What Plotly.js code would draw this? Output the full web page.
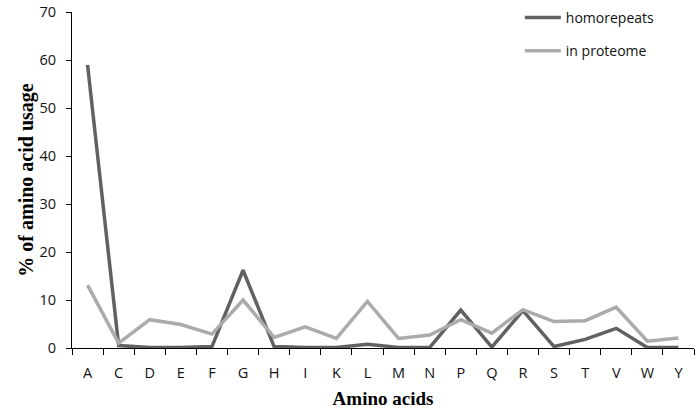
<!DOCTYPE html>
<html>
<head>
<meta charset="utf-8">
<script src="https://cdn.plot.ly/plotly-3.0.1.min.js"></script>
<style>html,body{margin:0;padding:0;background:#fff}#chart{width:696px;height:412px}</style>
</head>
<body>
<div id="chart"></div>
<script>
const aminoAcids = ["A","C","D","E","F","G","H","I","K","L","M","N","P","Q","R","S","T","V","W","Y"];
const homorepeats = [59.0,0.5,0.1,0.1,0.3,16.2,0.3,0.1,0.1,0.8,0.1,0.1,7.9,0.2,7.8,0.3,1.8,4.1,0.1,0.1];
const inProteome = [13.1,1.0,5.9,4.9,2.9,10.0,2.2,4.4,2.0,9.7,2.0,2.7,5.9,3.1,8.0,5.5,5.7,8.5,1.4,2.1];
const yTicks = [0,10,20,30,40,50,60,70];

const traces = [
  {x: aminoAcids, y: homorepeats, type: "scatter", mode: "lines", name: "homorepeats",
   legendgroup: "a", line: {color: "#616161", width: 3.5}},
  {x: aminoAcids, y: inProteome, type: "scatter", mode: "lines", name: "in proteome",
   legendgroup: "b", line: {color: "#ababab", width: 3.5}}
];

const tf = {family: "Open Sans, Liberation Sans, sans-serif", size: 14.5, color: "#111"};

const layout = {
  width: 696, height: 412,
  margin: {l: 72, r: 2, t: 7, b: 64},
  paper_bgcolor: "#fff", plot_bgcolor: "#fff",
  showlegend: true,
  legend: {x: 0.72, y: 1.03, xanchor: "left", yanchor: "top", bgcolor: "rgba(0,0,0,0)",
           font: {family: "Open Sans, Liberation Sans, sans-serif", size: 14, color: "#111"},
           tracegroupgap: 12, itemwidth: 36},
  xaxis: {type: "category", categoryarray: aminoAcids, showline: true, linecolor: "#000", linewidth: 1,
          ticks: "outside", tickson: "boundaries", ticklen: 6, tickcolor: "#000",
          showgrid: false, zeroline: false, range: [-0.5, 19.5],
          tickfont: tf, ticklabelstandoff: 12,
          title: {text: "Amino acids", standoff: 10,
                  font: {family: "Liberation Serif, serif", size: 19, color: "#000", weight: "bold"}}},
  yaxis: {range: [0, 70.02], tickvals: yTicks, showline: true, linecolor: "#000", linewidth: 1,
          ticks: "outside", ticklen: 5, tickcolor: "#000", showgrid: false, zeroline: false,
          tickfont: tf, ticklabelstandoff: 7,
          title: {text: "% of amino acid usage", standoff: 0,
                  font: {family: "Liberation Serif, serif", size: 20, color: "#000", weight: "bold"}}}
};

Plotly.newPlot("chart", traces, layout, {displayModeBar: false, staticPlot: true});
</script>
</body>
</html>
